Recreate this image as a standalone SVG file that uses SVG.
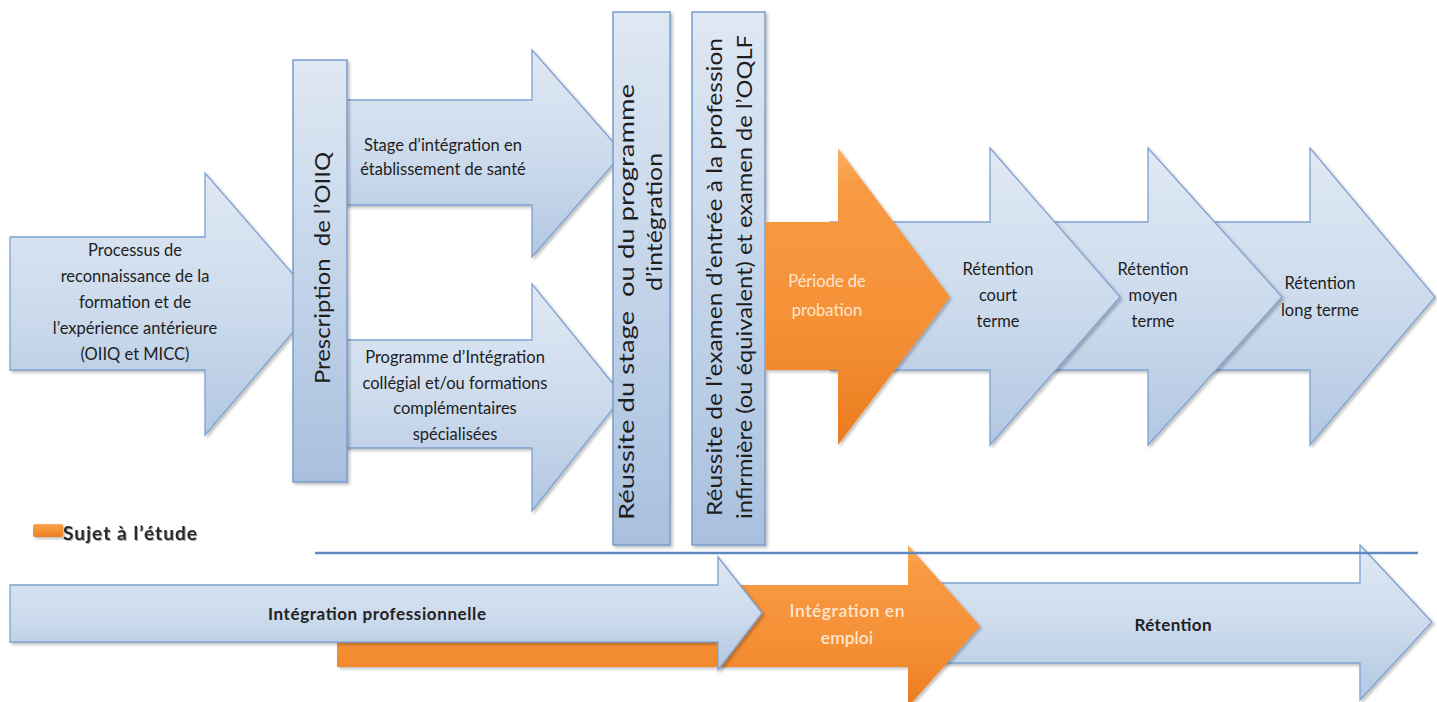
<svg xmlns="http://www.w3.org/2000/svg" width="1437" height="702" viewBox="0 0 1437 702">
  <defs>
    <linearGradient id="gBlue" x1="0" y1="0" x2="0" y2="1">
      <stop offset="0" stop-color="#e0e9f4"/>
      <stop offset="0.55" stop-color="#cbdaec"/>
      <stop offset="1" stop-color="#b2c7e2"/>
    </linearGradient>
    <linearGradient id="gBox" x1="0" y1="0" x2="0" y2="1">
      <stop offset="0" stop-color="#dfe8f3"/>
      <stop offset="0.5" stop-color="#c4d5ea"/>
      <stop offset="1" stop-color="#a8c0de"/>
    </linearGradient>
    <linearGradient id="gOrange" x1="0" y1="0" x2="0" y2="1">
      <stop offset="0" stop-color="#fbb061"/>
      <stop offset="0.12" stop-color="#f89b45"/>
      <stop offset="0.6" stop-color="#f59035"/>
      <stop offset="1" stop-color="#ea7c1f"/>
    </linearGradient>
    <filter id="shadow" x="-10%" y="-10%" width="130%" height="130%">
      <feDropShadow dx="2" dy="2" stdDeviation="1.5" flood-color="#000" flood-opacity="0.25"/>
    </filter>
    <filter id="txtShadow" x="-5%" y="-20%" width="110%" height="150%">
      <feDropShadow dx="1" dy="1" stdDeviation="0.6" flood-color="#000" flood-opacity="0.35"/>
    </filter>
  </defs>
  <style>
    .arrow { fill: url(#gBlue); stroke: #7fa2cf; stroke-width: 1.3; filter: url(#shadow); }
    .box { fill: url(#gBox); stroke: #7a9dcc; stroke-width: 1.5; filter: url(#shadow); }
    .orange { fill: url(#gOrange); stroke: none; filter: url(#shadow); }
    .lbl { font-family: Lato, "Liberation Sans", sans-serif; font-size: 16.5px; fill: #1e1e1e; text-anchor: middle; }
    .vlbl { font-family: Lato, "Liberation Sans", sans-serif; font-size: 21px; fill: #1e1e1e; text-anchor: middle; }
    .olbl { font-family: Lato, "Liberation Sans", sans-serif; font-size: 16.5px; fill: #fde6cf; text-anchor: middle; }
    .oblbl { font-family: Lato, "Liberation Sans", sans-serif; font-size: 17.5px; font-weight: 600; fill: #fde6cf; text-anchor: middle; }
    .blbl { font-family: Lato, "Liberation Sans", sans-serif; font-size: 17px; font-weight: bold; fill: #222; text-anchor: middle; }
    .timeline { stroke: #5f89bf; stroke-width: 2.5; }
  </style>

  <!-- upper row: recognition process -->
  <g id="processus">
    <path class="arrow" d="M10,237 H205 V173 L318,303 L205,435 V370 H10 Z"/>
    <text class="lbl" x="135" y="256">Processus de</text>
    <text class="lbl" x="135" y="282">reconnaissance de la</text>
    <text class="lbl" x="135" y="308">formation et de</text>
    <text class="lbl" x="135" y="334">l’expérience antérieure</text>
    <text class="lbl" x="135" y="360">(OIIQ et MICC)</text>
  </g>

  <g id="stage">
    <path class="arrow" d="M345,100 H532 V50 L623,153 L532,257 V205 H345 Z"/>
    <text class="lbl" x="443" y="151">Stage d’intégration en</text>
    <text class="lbl" x="443" y="175">établissement de santé</text>
  </g>

  <g id="programme">
    <path class="arrow" d="M345,340 H532 V284 L623,396 L532,511 V448 H345 Z"/>
    <text class="lbl" x="455" y="363">Programme d’Intégration</text>
    <text class="lbl" x="455" y="389">collégial et/ou formations</text>
    <text class="lbl" x="455" y="414">complémentaires</text>
    <text class="lbl" x="455" y="440">spécialisées</text>
  </g>

  <g id="prescription">
    <rect class="box" x="293" y="60" width="54" height="422"/>
    <text class="vlbl" transform="translate(330,268) rotate(-90)" textLength="232" lengthAdjust="spacingAndGlyphs" xml:space="preserve">Prescription  de l’OIIQ</text>
  </g>

  <g id="reussite-stage">
    <rect class="box" x="613" y="12" width="57" height="533"/>
    <text class="vlbl" transform="translate(634,302) rotate(-90)" textLength="436" lengthAdjust="spacingAndGlyphs" xml:space="preserve">Réussite du stage  ou du programme</text>
    <text class="vlbl" transform="translate(662,222) rotate(-90)" textLength="138" lengthAdjust="spacingAndGlyphs">d’intégration</text>
  </g>

  <g id="reussite-examen">
    <rect class="box" x="692" y="12" width="73" height="533"/>
    <text class="vlbl" transform="translate(722,277) rotate(-90)" textLength="478" lengthAdjust="spacingAndGlyphs">Réussite de l’examen d’entrée à la profession</text>
    <text class="vlbl" transform="translate(752,277) rotate(-90)" textLength="484" lengthAdjust="spacingAndGlyphs">infirmière (ou équivalent) et examen de l’OQLF</text>
  </g>

  <!-- retention chain, drawn right to left so each head overlaps the next body -->
  <g id="retention-long">
    <path class="arrow" d="M1150,222 H1310 V148 L1435,297 L1310,445 V370 H1150 Z"/>
    <text class="lbl" x="1320" y="289">Rétention</text>
    <text class="lbl" x="1320" y="316">long terme</text>
  </g>

  <g id="retention-moyen">
    <path class="arrow" d="M990,222 H1148 V148 L1282,297 L1148,445 V370 H990 Z"/>
    <text class="lbl" x="1153" y="275">Rétention</text>
    <text class="lbl" x="1153" y="301">moyen</text>
    <text class="lbl" x="1153" y="327">terme</text>
  </g>

  <g id="retention-court">
    <path class="arrow" d="M830,222 H990 V148 L1120,297 L990,445 V370 H830 Z"/>
    <text class="lbl" x="998" y="275">Rétention</text>
    <text class="lbl" x="998" y="301">court</text>
    <text class="lbl" x="998" y="327">terme</text>
  </g>

  <g id="probation">
    <path class="orange" d="M766,222 H838 V148 L950,297 L838,445 V370 H766 Z"/>
    <text class="olbl" x="827" y="287">Période de</text>
    <text class="olbl" x="827" y="316">probation</text>
  </g>

  <!-- legend -->
  <g id="legende">
    <rect x="33" y="524" width="30" height="13" rx="2" fill="url(#gOrange)" filter="url(#shadow)"/>
    <text x="63" y="540" font-family="Lato, 'Liberation Sans', sans-serif" font-size="19" font-weight="bold" fill="#2a2a2a" textLength="134" filter="url(#txtShadow)">Sujet à l’étude</text>
  </g>

  <!-- lower row: overall phases -->
  <g id="retention">
    <path class="arrow" d="M930,583 H1360 V545 L1432,622 L1360,700 V663 H930 Z"/>
    <text class="blbl" x="1173" y="631" textLength="77">Rétention</text>
  </g>

  <g id="integration-emploi">
    <path class="orange" d="M337,585 H908 V545 L980,626 L908,707 V667 H337 Z"/>
    <text class="oblbl" x="847" y="617" textLength="115">Intégration en</text>
    <text class="oblbl" x="847" y="644">emploi</text>
  </g>

  <g id="integration-professionnelle">
    <path class="arrow" d="M10,585 H718 V557 L762,613 L718,670 V642 H10 Z"/>
    <text class="blbl" x="377" y="620" textLength="218">Intégration professionnelle</text>
  </g>

  <g id="connecteurs">
    <line class="timeline" x1="315" y1="553" x2="1418" y2="553"/>
  </g>
</svg>
